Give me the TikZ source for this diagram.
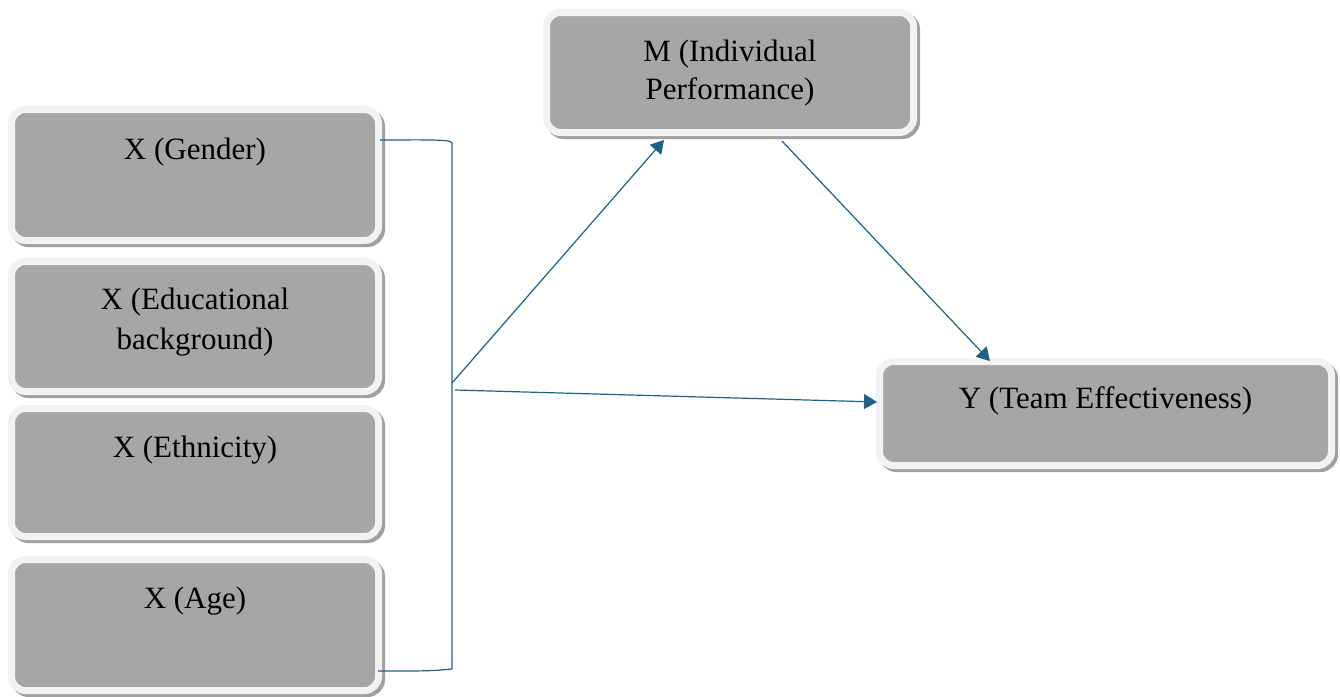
\documentclass[tikz,border=0pt]{standalone}
\usepackage{fontspec}
\setmainfont{Liberation Serif}
\usetikzlibrary{shadows,arrows.meta}
\definecolor{boxgray}{HTML}{A6A6A6}
\definecolor{ringcol}{HTML}{F2F2F2}
\definecolor{shadowcol}{HTML}{A0A0A0}
\definecolor{linkcol}{HTML}{1F6287}
\begin{document}
\begin{tikzpicture}[x=1pt,y=-1pt,
  boxnode/.style={rectangle, fill=boxgray, draw=ringcol, line width=7pt,
    rounded corners=14pt, inner sep=0pt,
    drop shadow={shadow xshift=3pt, shadow yshift=-3pt, fill=shadowcol, draw=shadowcol, line width=7pt, opacity=1}},
  lbl/.style={inner sep=0pt, anchor=base, font=\fontsize{31}{40}\selectfont, text=black},
  link/.style={draw=linkcol, line width=1.2pt},
  arr/.style={link, -{Triangle[length=13pt,width=15pt]}}]
\useasboundingbox (0,0) rectangle (1340,696);
% boxes
\node[boxnode, minimum width=367pt, minimum height=131pt] (gender) at (195,175) {};
\node[boxnode, minimum width=367pt, minimum height=130pt] (edu) at (195,326.5) {};
\node[boxnode, minimum width=367pt, minimum height=128pt] (eth) at (195,472.5) {};
\node[boxnode, minimum width=367pt, minimum height=131pt] (age) at (195,625) {};
\node[boxnode, minimum width=367pt, minimum height=120pt] (M) at (730,72.5) {};
\node[boxnode, minimum width=452pt, minimum height=104pt] (Y) at (1105.5,413.5) {};
% labels
\node[lbl] (genderT) at (195,159) {X (Gender)};
\node[lbl] (eduT1) at (195,309) {X (Educational};
\node[lbl] (eduT2) at (195,349) {background)};
\node[lbl] (ethT) at (195,457) {X (Ethnicity)};
\node[lbl] (ageT) at (195,608) {X (Age)};
\node[lbl] (MT1) at (730,61) {M (Individual};
\node[lbl] (MT2) at (730,99) {Performance)};
\node[lbl] (YT) at (1105.5,408) {Y (Team Effectiveness)};
% bracket
\coordinate (gStart) at (380,140);
\coordinate (bTop) at (452,143);
\coordinate (bBot) at (452,669);
\coordinate (aEnd) at (378,671);
\coordinate (bMid1) at (452,383);
\coordinate (bMid2) at (455,390);
\coordinate (mIn) at (664,140);
\coordinate (mOut) at (782,141);
\coordinate (yTop) at (990,361);
\coordinate (yLeft) at (877,402);
\draw[link] (gStart) .. controls (420,140) and (452,139) .. (bTop) -- (bBot) .. controls (430,671) .. (aEnd);
\draw[arr] (bMid1) -- (mIn);
\draw[arr] (bMid2) -- (yLeft);
\draw[arr] (mOut) -- (yTop);
\end{tikzpicture}
\end{document}
